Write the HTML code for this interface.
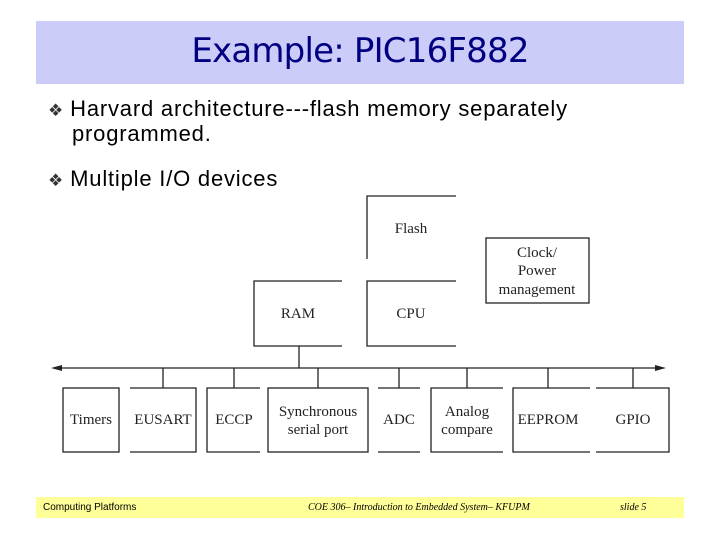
<!DOCTYPE html>
<html><head><meta charset="utf-8"><style>
body{margin:0;width:720px;height:540px;background:#fff;position:relative;overflow:hidden;font-family:"Liberation Sans",sans-serif}
.ban{position:absolute;left:36px;top:21px;width:648px;height:63px;background:#ccccf8}
.ttl{position:absolute;left:36px;top:31px;width:648px;text-align:center;font:34px "DejaVu Sans",sans-serif;color:#000080;letter-spacing:-0.8px}
.b{position:absolute;font-size:22px;color:#000;letter-spacing:0.8px}
.d{font-size:17px;color:#333;letter-spacing:0}
.foot{position:absolute;left:36px;top:497px;width:648px;height:21px;background:#ffff99}
.ft{position:absolute;top:502px;font-size:10px}
</style></head><body>
<div class="ban"></div>
<div class="ttl">Example: PIC16F882</div>
<div class="b" style="left:48px;top:96px"><span class="d">❖</span> Harvard architecture---flash memory separately</div>
<div class="b" style="left:72px;top:121px">programmed.</div>
<div class="b" style="left:48px;top:166px"><span class="d">❖</span> Multiple I/O devices</div>
<svg width="720" height="540" style="position:absolute;left:0;top:0" font-family="Liberation Serif, serif" font-size="15" fill="#222" text-anchor="middle">
<g stroke="#222" stroke-width="1.3" fill="none">
<path d="M367 259V196H456"/>
<path d="M342 281H254V346H342"/>
<path d="M456 281H367V346H456"/>
<rect x="486" y="238" width="103" height="65"/>
<path d="M299 346V368"/>
<path d="M58 368H660"/>
<path d="M163 368V388M234 368V388M318 368V388M399 368V388M467 368V388M548 368V388M633 368V388"/>
<rect x="63" y="388" width="56" height="64"/>
<path d="M130 388H196V452H130"/>
<path d="M260 388H207V452H260"/>
<rect x="268" y="388" width="100" height="64"/>
<path d="M378 388H420M378 452H420"/>
<path d="M503 388H431V452H503"/>
<path d="M590 388H513V452H590"/>
<path d="M596 388H669V452H596"/>
</g>
<path d="M51 368L62 365V371Z M666 368L655 365V371Z" fill="#222"/>
<text x="411" y="233">Flash</text>
<text x="298" y="318">RAM</text>
<text x="411" y="318">CPU</text>
<text x="537" y="257">Clock/</text>
<text x="537" y="275">Power</text>
<text x="537" y="294">management</text>
<text x="91" y="424">Timers</text>
<text x="163" y="424">EUSART</text>
<text x="234" y="424">ECCP</text>
<text x="318" y="416">Synchronous</text>
<text x="318" y="434">serial port</text>
<text x="399" y="424">ADC</text>
<text x="467" y="416">Analog</text>
<text x="467" y="434">compare</text>
<text x="548" y="424">EEPROM</text>
<text x="633" y="424">GPIO</text>
</svg>
<div class="foot"></div>
<div class="ft" style="left:43px">Computing Platforms</div>
<div class="ft" style="left:308px;font-family:'Liberation Serif',serif;font-style:italic">COE 306– Introduction to Embedded System– KFUPM</div>
<div class="ft" style="left:620px;font-family:'Liberation Serif',serif;font-style:italic">slide 5</div>
</body></html>
